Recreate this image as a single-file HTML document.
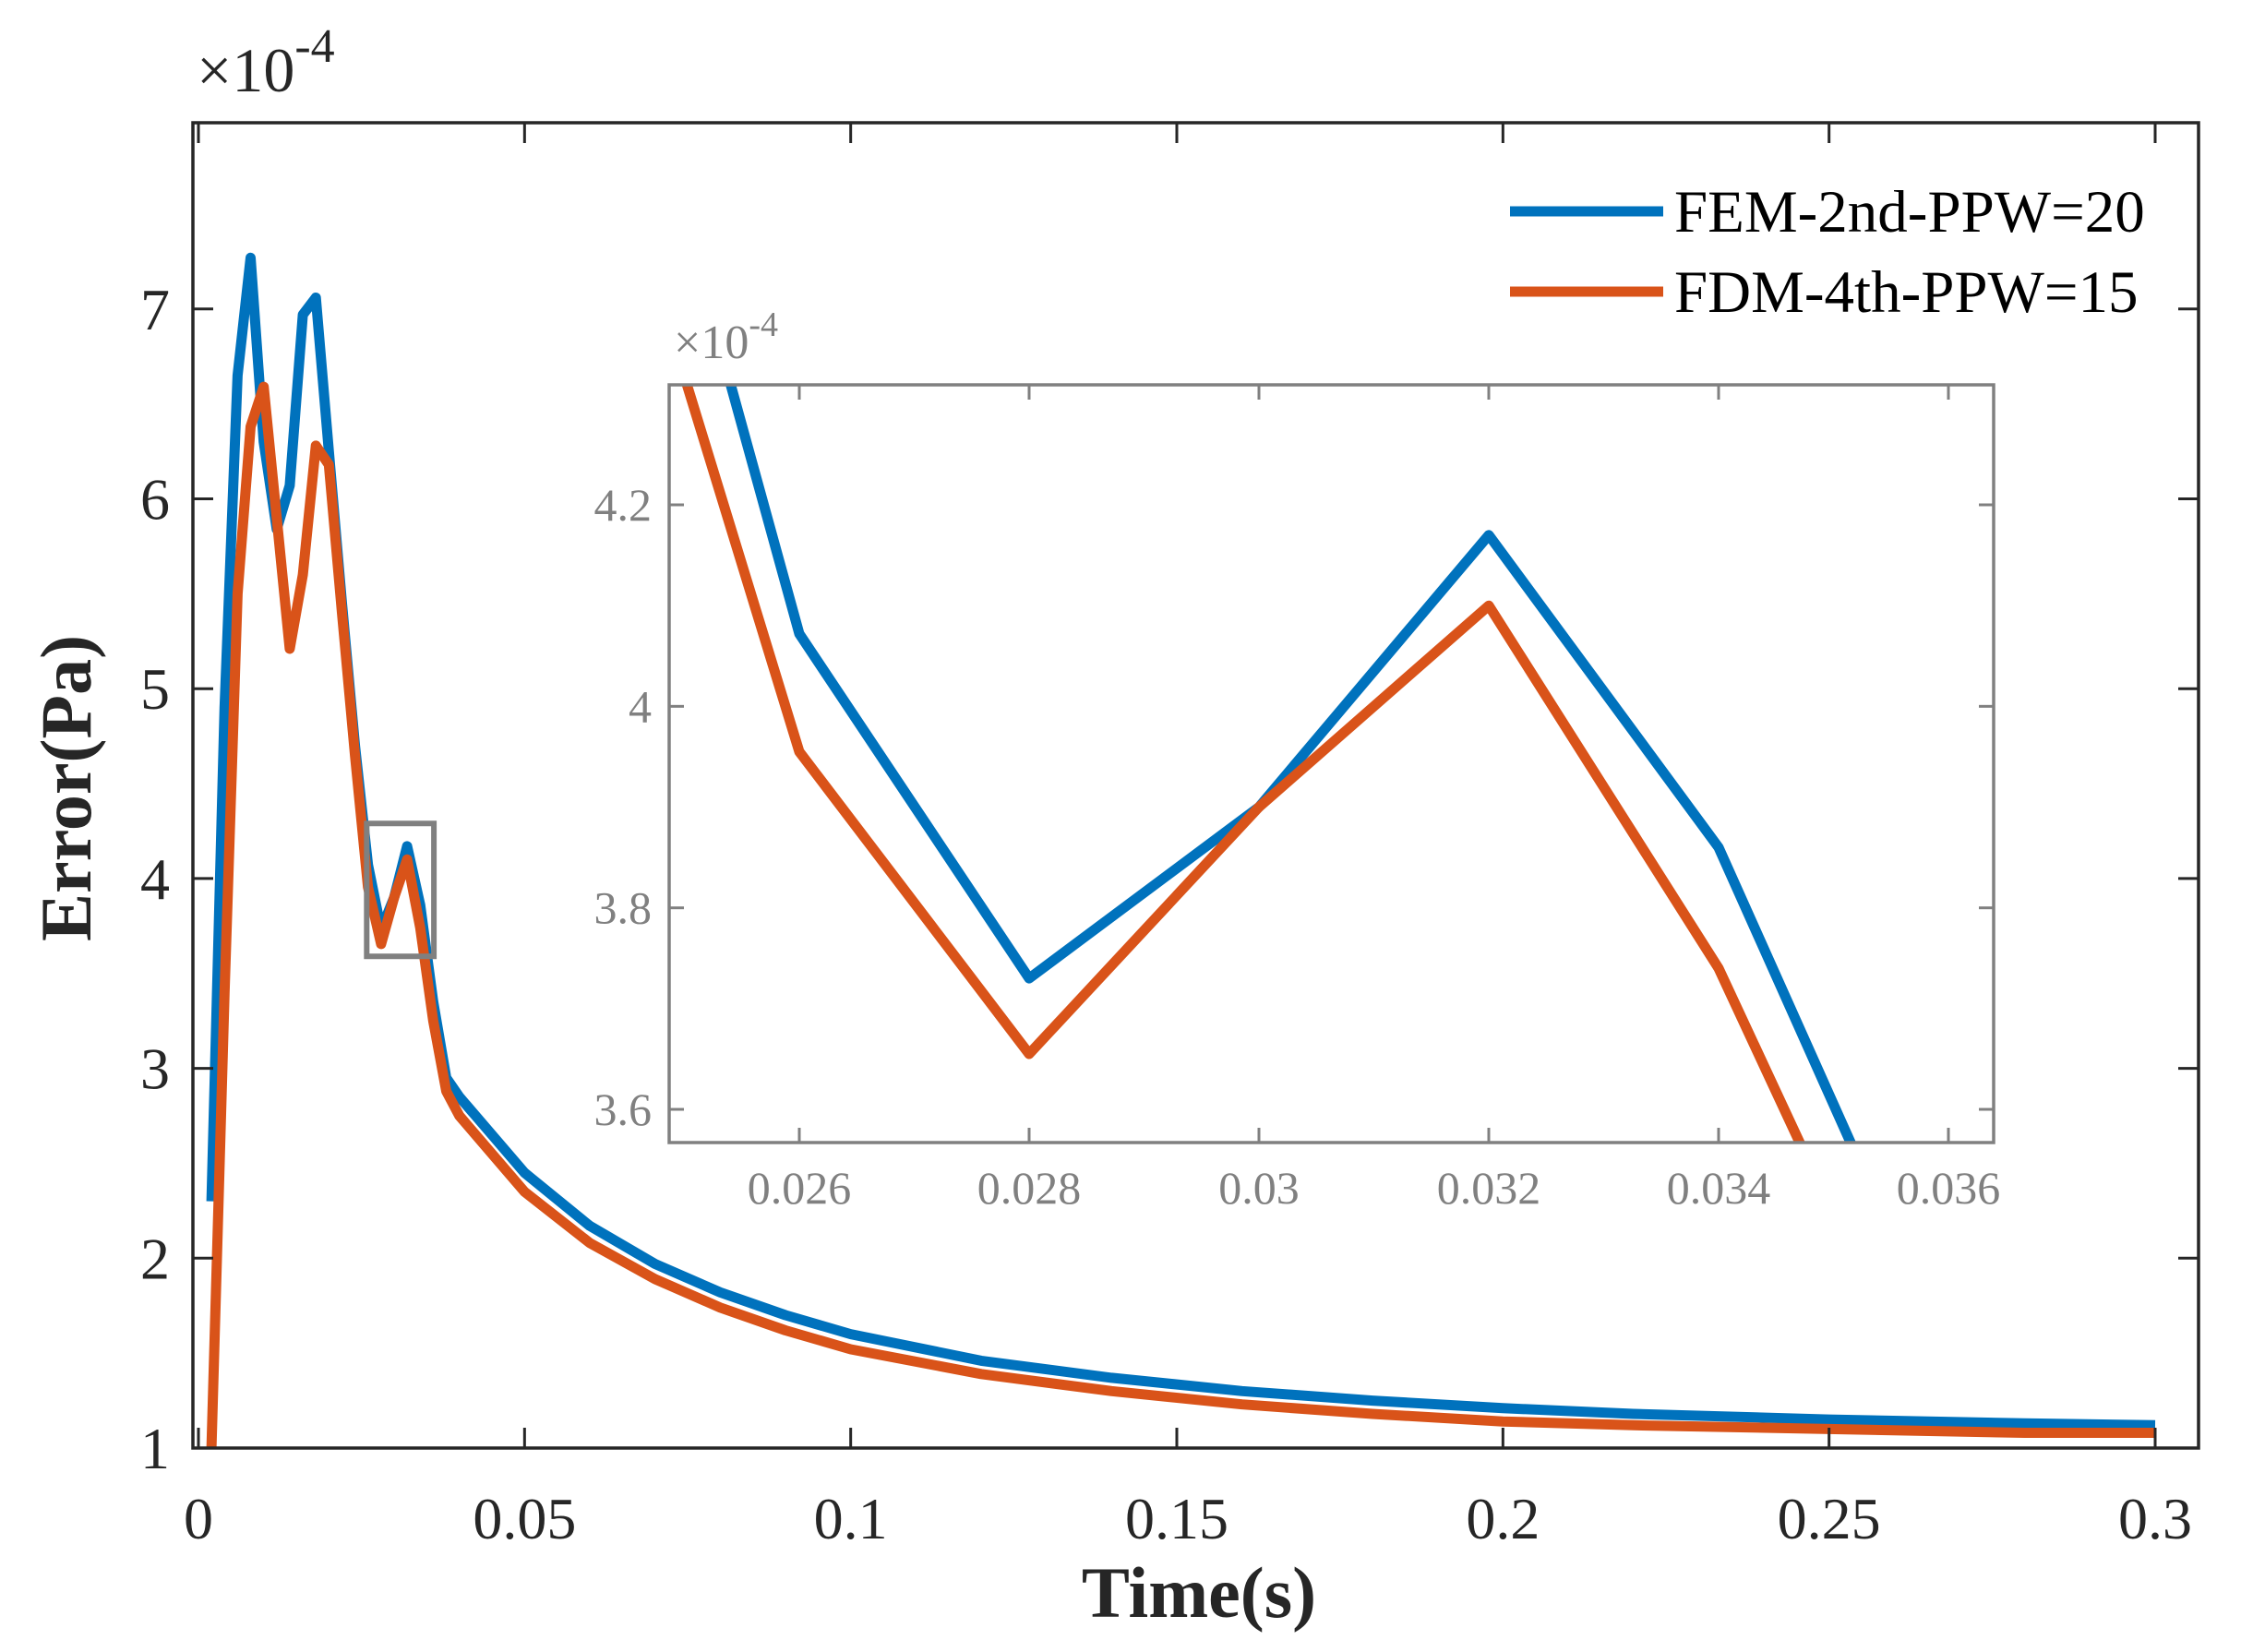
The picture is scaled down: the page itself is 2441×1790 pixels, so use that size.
<!DOCTYPE html>
<html><head><meta charset="utf-8"><style>
html,body{margin:0;padding:0;background:#fff;}
svg{display:block;font-family:"Liberation Serif",serif;}
</style></head><body>
<svg id="chart" width="2441" height="1790" viewBox="0 0 2441 1790" xmlns="http://www.w3.org/2000/svg">
<rect width="2441" height="1790" fill="#fff"/>
<defs>
<clipPath id="mainClip"><rect x="209" y="133" width="2173" height="1436"/></clipPath>
<clipPath id="insetClip"><rect x="725" y="417" width="1435" height="821"/></clipPath>
</defs>
<g id="main"></g>
<g id="inset"></g>
<g id="legend">
<line x1="1636" y1="229" x2="1802" y2="229" stroke="#0072BD" stroke-width="11"/>
<text x="1814" y="251" font-size="65" fill="#000">FEM-2nd-PPW=20</text>
<line x1="1636" y1="316" x2="1802" y2="316" stroke="#D95319" stroke-width="11"/>
<text x="1814" y="338" font-size="65" fill="#000">FDM-4th-PPW=15</text>
</g>
<text x="213" y="99" font-size="68" fill="#262626">×10<tspan dy="-32" font-size="52">-4</tspan></text>
<text x="1299" y="1752" font-size="78" font-weight="bold" text-anchor="middle" fill="#262626">Time(s)</text>
<text transform="translate(98,854) rotate(-90)" font-size="78" font-weight="bold" text-anchor="middle" fill="#262626">Error(Pa)</text>
<text x="730" y="388" font-size="52" fill="#808080">×10<tspan dy="-24" font-size="38">-4</tspan></text>
</svg>
<script>
// Main chart data
const timeVals = [0.002,0.004,0.006,0.008,0.010,0.012,0.014,0.016,0.018,0.020,0.022,0.024,0.026,0.028,0.030,0.032,0.034,0.036,0.038,0.040,0.045,0.05,0.06,0.07,0.08,0.09,0.10,0.12,0.14,0.16,0.18,0.20,0.22,0.25,0.28,0.30];
const femVals = [2.3,4.9,6.65,7.27,6.3,5.84,6.07,6.97,7.06,6.25,5.45,4.7,4.072,3.73,3.90,4.17,3.86,3.35,2.95,2.85,2.65,2.45,2.17,1.97,1.82,1.70,1.60,1.46,1.37,1.30,1.25,1.21,1.18,1.15,1.13,1.12];
const fdmVals = [1.0,3.4,5.5,6.38,6.59,5.9,5.21,5.6,6.28,6.18,5.4,4.65,3.955,3.655,3.90,4.10,3.74,3.25,2.88,2.75,2.55,2.35,2.08,1.89,1.74,1.62,1.52,1.39,1.30,1.23,1.18,1.14,1.12,1.10,1.08,1.08];
const xTicks = [0,0.05,0.1,0.15,0.2,0.25,0.3];
const xTickLabels = ["0","0.05","0.1","0.15","0.2","0.25","0.3"];
const yTicks = [1,2,3,4,5,6,7];
const yTickLabels = ["1","2","3","4","5","6","7"];
// Inset data
const insetTime = [0.024,0.026,0.028,0.030,0.032,0.034,0.036];
const insetFem = [4.9,4.072,3.73,3.90,4.17,3.86,3.35];
const insetFdm = [4.7,3.955,3.655,3.90,4.10,3.74,3.25];
const insetXTicks = [0.026,0.028,0.030,0.032,0.034,0.036];
const insetXLabels = ["0.026","0.028","0.03","0.032","0.034","0.036"];
const insetYTicks = [3.6,3.8,4.0,4.2];
const insetYLabels = ["3.6","3.8","4","4.2"];

const NS="http://www.w3.org/2000/svg";
function mk(tag,attrs,parent){const e=document.createElementNS(NS,tag);for(const k in attrs)e.setAttribute(k,attrs[k]);parent.appendChild(e);return e;}

const X=t=>215+t*7066.7;
const Y=v=>1569-(v-1)*205.7;
const main=document.getElementById('main');
function series(ts,vs,sx,sy){return ts.map((t,i)=>sx(t).toFixed(1)+','+sy(vs[i]).toFixed(1)).join(' ');}
const gm=mk('g',{'clip-path':'url(#mainClip)'},main);
let p=mk('polyline',{points:series(timeVals,femVals,X,Y),fill:'none',stroke:'#0072BD','stroke-width':11,'stroke-linejoin':'round'},gm);


p=mk('polyline',{points:series(timeVals,fdmVals,X,Y),fill:'none',stroke:'#D95319','stroke-width':11,'stroke-linejoin':'round'},gm);


let r=mk('rect',{x:209,y:133,width:2173,height:1436,fill:'none',stroke:'#262626','stroke-width':3.5},main);


xTicks.forEach((t,i)=>{
  mk('line',{x1:X(t),y1:1569,x2:X(t),y2:1547,stroke:'#262626','stroke-width':3},main);
  mk('line',{x1:X(t),y1:133,x2:X(t),y2:155,stroke:'#262626','stroke-width':3},main);
  const tx=mk('text',{x:X(t),y:1667,'font-size':64,'text-anchor':'middle',fill:'#262626'},main);
  tx.textContent=xTickLabels[i];
  
  
});
yTicks.forEach((v,i)=>{
  mk('line',{x1:209,y1:Y(v),x2:231,y2:Y(v),stroke:'#262626','stroke-width':3},main);
  mk('line',{x1:2382,y1:Y(v),x2:2360,y2:Y(v),stroke:'#262626','stroke-width':3},main);
  const tx=mk('text',{x:184,y:Y(v)+22,'font-size':64,'text-anchor':'end',fill:'#262626'},main);
  tx.textContent=yTickLabels[i];
  
  
});

const IX=t=>866+(t-0.026)*124500;
const IY=v=>547+(4.2-v)*1091.7;
const ins=document.getElementById('inset');
r=mk('rect',{x:X(0.0258),y:Y(4.29),width:X(0.0361)-X(0.0258),height:Y(3.59)-Y(4.29),fill:'none',stroke:'#808080','stroke-width':6},main);


mk('rect',{x:725,y:417,width:1435,height:821,fill:'#fff'},ins);
const gi=mk('g',{'clip-path':'url(#insetClip)'},ins);
p=mk('polyline',{points:series(insetTime,insetFem,IX,IY),fill:'none',stroke:'#0072BD','stroke-width':11,'stroke-linejoin':'round'},gi);


p=mk('polyline',{points:series(insetTime,insetFdm,IX,IY),fill:'none',stroke:'#D95319','stroke-width':11,'stroke-linejoin':'round'},gi);


r=mk('rect',{x:725,y:417,width:1435,height:821,fill:'none',stroke:'#808080','stroke-width':3.5},ins);


insetXTicks.forEach((t,i)=>{
  mk('line',{x1:IX(t),y1:1238,x2:IX(t),y2:1222,stroke:'#808080','stroke-width':3},ins);
  mk('line',{x1:IX(t),y1:417,x2:IX(t),y2:433,stroke:'#808080','stroke-width':3},ins);
  const tx=mk('text',{x:IX(t),y:1304,'font-size':50,'text-anchor':'middle',fill:'#808080'},ins);
  tx.textContent=insetXLabels[i];
  
  
});
insetYTicks.forEach((v,i)=>{
  mk('line',{x1:725,y1:IY(v),x2:741,y2:IY(v),stroke:'#808080','stroke-width':3},ins);
  mk('line',{x1:2160,y1:IY(v),x2:2144,y2:IY(v),stroke:'#808080','stroke-width':3},ins);
  const tx=mk('text',{x:706,y:IY(v)+17,'font-size':50,'text-anchor':'end',fill:'#808080'},ins);
  tx.textContent=insetYLabels[i];
  
  
});
</script>
</body></html>
